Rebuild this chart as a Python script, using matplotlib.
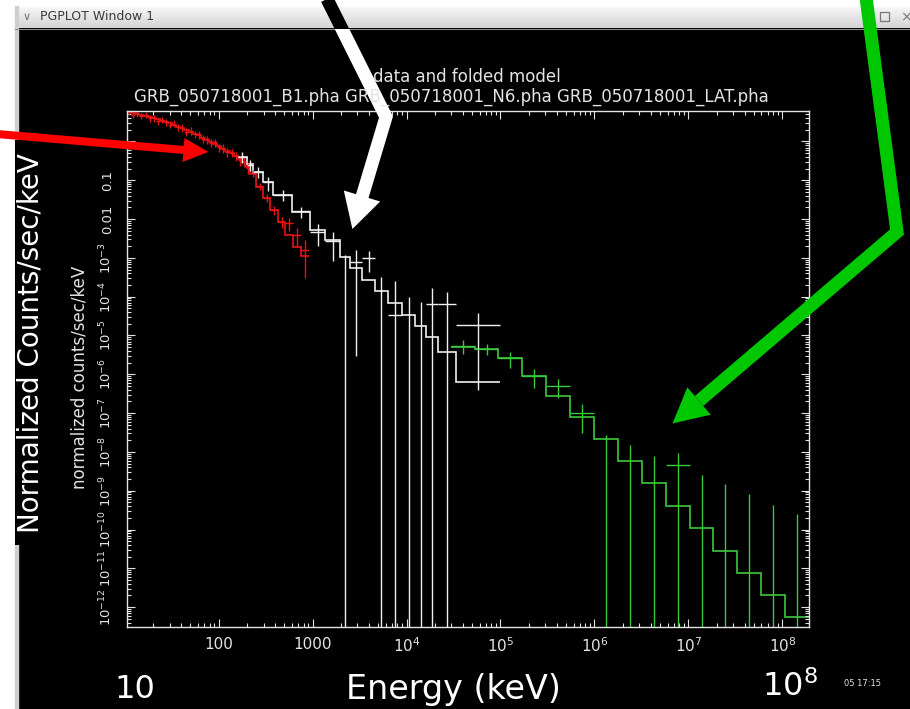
import numpy as np
import matplotlib
matplotlib.use("Agg")
import matplotlib.pyplot as plt
from matplotlib.patches import Polygon, Rectangle
from matplotlib.ticker import LogLocator, NullFormatter

W, H = 910, 709

# B1: bin edges [keV], folded model, data, 1-sigma errors  [counts/s/keV]
b1_edges = [10.6, 11.7, 12.9, 14.3, 15.8, 17.5, 19.3, 21.4, 23.6, 26.1, 28.9,
            31.9, 35.3, 39.0, 43.2, 47.7, 52.8, 58.4, 64.5, 71.4, 78.9, 87.2,
            96.5, 106.7, 118.0, 130.4, 144.2, 159.5, 176.3, 195.0, 215.6,
            249.5, 296.2, 351.7, 427.9, 507.8, 618.0, 751.9, 914.9]
b1_model = [5.59, 5.27, 4.97, 4.74, 4.49, 4.23, 3.96, 3.69, 3.44, 3.18, 2.91,
            2.66, 2.42, 2.20, 1.98, 1.78, 1.60, 1.43, 1.26, 1.106, 0.971, 0.852,
            0.748, 0.656, 0.572, 0.491, 0.418, 0.350, 0.288, 0.220,
            0.145, 0.0672, 0.0350, 0.01716, 0.00842, 0.00389, 0.00191, 0.00112]
b1_data = [5.87, 4.90, 5.37, 4.60, 4.94, 4.02, 4.04, 3.32, 3.68, 3.18, 2.74,
           2.90, 2.32, 2.29, 1.80, 1.92, 1.57, 1.52, 1.17, 1.14, 0.942, 0.946,
           0.711, 0.669, 0.526, 0.520, 0.418, 0.329, 0.302, 0.213,
           0.150, 0.070, 0.036, 0.0170, 0.0086, 0.0078, 0.0039, 0.0016]
b1_err = [1.1, 0.95, 1.0, 0.88, 0.92, 0.80, 0.80, 0.67, 0.72, 0.64, 0.57,
          0.59, 0.50, 0.48, 0.40, 0.41, 0.35, 0.33, 0.27, 0.27, 0.22, 0.22,
          0.17, 0.17, 0.135, 0.13, 0.11, 0.095, 0.085, 0.065,
          0.030, 0.015, 0.008, 0.0045, 0.0028, 0.0030, 0.0020, 0.0013]

# N6
n6_edges = [160, 200, 232, 296, 379, 603, 938, 1354, 1956, 2500, 3354, 4613,
            6343, 8943, 12300, 16106, 21617, 33604, 98810]
n6_model = [0.399, 0.263, 0.164, 0.0904, 0.0418, 0.0155, 5.24e-3, 2.89e-3,
            1.036e-3, 5.40e-4, 2.69e-4, 1.43e-4, 6.76e-5, 3.38e-5, 1.76e-5,
            9.31e-6, 3.82e-6, 6.22e-7]
n6_data = [0.41, 0.25, 0.168, 0.088, 0.043, 0.0157, 4.73e-3, 2.77e-3,
           0.0, 7.98e-4, 9.77e-4, 0.0, 3.38e-5, 0.0, 0.0,
           6.4e-5, 6.4e-5, 1.87e-5]
n6_err = [0.13, 0.08, 0.05, 0.035, 0.013, 0.005, 2.7e-3, 1.95e-3,
          1.2e-3, 7.95e-4, 5.4e-4, 3.3e-4, 2.25e-4, 9.6e-5, 7.2e-5,
          1.07e-4, 7.1e-5, 1.83e-5]

# LAT
lat_edges = [2.95e4, 5.30e4, 9.51e4, 1.709e5, 3.07e5, 5.51e5, 9.90e5, 1.778e6,
             3.19e6, 5.73e6, 1.030e7, 1.850e7, 3.32e7, 5.97e7, 1.072e8, 1.925e8]
lat_model = [5.06e-6, 4.57e-6, 2.58e-6, 9.2e-7, 2.81e-7, 8.07e-8, 2.19e-8,
             5.83e-9, 1.55e-9, 4.11e-10, 1.11e-10, 2.84e-11, 7.7e-12,
             2.05e-12, 5.66e-13]
lat_data = [5.5e-6, 4.6e-6, 2.58e-6, 9.2e-7, 4.99e-7, 1.0e-7, 0.0, 0.0, 0.0,
            4.6e-9, 0.0, 0.0, 0.0, 0.0, 0.0]
lat_err = [2.2e-6, 1.5e-6, 1.1e-6, 4.8e-7, 2.5e-7, 7.0e-8, 2.72e-8, 1.51e-8,
           7.98e-9, 4.6e-9, 2.54e-9, 1.46e-9, 8.07e-10, 4.28e-10, 2.51e-10]

x_ticks = [1e2, 1e3, 1e4, 1e5, 1e6, 1e7, 1e8]
x_ticklabels = ["100", "1000", r"$10^{4}$", r"$10^{5}$", r"$10^{6}$",
                r"$10^{7}$", r"$10^{8}$"]
y_ticks = [1e-12, 1e-11, 1e-10, 1e-9, 1e-8, 1e-7, 1e-6, 1e-5, 1e-4, 1e-3,
           1e-2, 1e-1, 1.0]
y_ticklabels = [r"$10^{-12}$", r"$10^{-11}$", r"$10^{-10}$", r"$10^{-9}$",
                r"$10^{-8}$", r"$10^{-7}$", r"$10^{-6}$", r"$10^{-5}$",
                r"$10^{-4}$", r"$10^{-3}$", "0.01", "0.1", "1"]
files = ["GRB_050718001_B1.pha", "GRB_050718001_N6.pha", "GRB_050718001_LAT.pha"]

RED, WHITE, GREEN = "#e81414", "#f0f0f0", "#3cc83c"
FG = "#e4e4e4"

plt.rcParams["mathtext.fontset"] = "dejavusans"


def plot_group(ax, edges, model, data, err, color):
    edges = np.asarray(edges, float)
    data = np.asarray(data, float)
    err = np.asarray(err, float)
    mid = np.sqrt(edges[:-1] * edges[1:])
    ax.stairs(model, edges, baseline=None, color=color, lw=1.2)
    lo = np.maximum(data - err, 1e-30)
    ax.vlines(mid, lo, data + err, color=color, lw=1.0)
    ok = data > 0
    ax.hlines(data[ok], edges[:-1][ok], edges[1:][ok], color=color, lw=1.0)


def arrow(ax, path, head, color, width):
    xs, ys = zip(*path)
    line, = ax.plot(xs, ys, color=color, lw=width, solid_capstyle="butt",
                    solid_joinstyle="miter")
    ax.add_patch(Polygon(head, closed=True, facecolor=color, lw=0))
    return line


fig = plt.figure(figsize=(W / 100, H / 100), dpi=100, facecolor="black")

# window chrome (pixel coordinates, y downwards)
bg = fig.add_axes([0, 0, 1, 1], zorder=0)
bg.imshow(np.linspace(0.97, 0.83, 24).reshape(-1, 1), cmap="gray", vmin=0, vmax=1,
          extent=(15, W, 28, 6), aspect="auto", interpolation="bilinear")
bg.add_patch(Rectangle((0, 0), W, 6, color="white"))
bg.add_patch(Rectangle((0, 0), 15, H, color="white"))
bg.add_patch(Rectangle((15, 6), 3, H, color="#cfcfcf"))
bg.plot([15, W], [28.5, 28.5], color="#8c8c8c", lw=0.8)
bg.text(27, 17, "\u2228", fontsize=8, color="#707070", ha="center", va="center")
bg.text(40, 17, "PGPLOT Window 1", fontsize=9, color="#3a3a3a", va="center")
bg.add_patch(Rectangle((880, 12), 9, 9, fill=False, ec="#777777", lw=0.9))
bg.text(906, 17, "\u00d7", fontsize=10, color="#777777", ha="center", va="center")
bg.set_xlim(0, W)
bg.set_ylim(H, 0)
bg.axis("off")

# spectrum panel
ax = fig.add_axes([127 / W, 1 - 627 / H, (809 - 127) / W, (627 - 111) / H], zorder=1)
ax.set_facecolor("black")
ax.set_xscale("log")
ax.set_yscale("log")
plot_group(ax, b1_edges, b1_model, b1_data, b1_err, RED)
plot_group(ax, n6_edges, n6_model, n6_data, n6_err, WHITE)
plot_group(ax, lat_edges, lat_model, lat_data, lat_err, GREEN)
ax.set_xlim(10.56, 1.925e8)
ax.set_ylim(3.07e-13, 6.11)

ax.set_xticks(x_ticks, x_ticklabels)
ax.set_yticks(y_ticks, y_ticklabels)
ax.xaxis.set_minor_locator(LogLocator(base=10, subs=np.arange(2, 10), numticks=200))
ax.yaxis.set_minor_locator(LogLocator(base=10, subs=np.arange(2, 10), numticks=200))
ax.xaxis.set_minor_formatter(NullFormatter())
ax.yaxis.set_minor_formatter(NullFormatter())
ax.tick_params(which="both", direction="in", top=True, right=True, color=FG,
               labelcolor=FG, width=0.8, pad=7)
ax.tick_params(axis="x", labelsize=11)
ax.tick_params(axis="y", labelsize=9.5, labelrotation=90, pad=9)
ax.tick_params(which="major", length=6)
ax.tick_params(which="minor", length=3)
for lab in ax.get_yticklabels():
    lab.set_va("center")
for s in ax.spines.values():
    s.set_color(FG)
    s.set_linewidth(1.0)

fig.text(467 / W, 1 - 77 / H, "data and folded model", color=FG, fontsize=12,
         ha="center", va="center")
fig.text(451 / W, 1 - 97 / H, " ".join(files), color=FG, fontsize=12,
         ha="center", va="center")
fig.text(80 / W, 1 - 377 / H, "normalized counts/sec/keV", color=FG, fontsize=12,
         rotation=90, ha="center", va="center")
fig.text(862 / W, 1 - 683 / H, "05 17:15", color=FG, fontsize=6,
         ha="center", va="center")

# overlay: callout arrows and big labels
fg = fig.add_axes([0, 0, 1, 1], zorder=3)
fg.patch.set_visible(False)
fg.set_xlim(0, W)
fg.set_ylim(H, 0)
fg.axis("off")

fg.add_patch(Rectangle((15, 140), 31, 405, color="black", lw=0))
fg.text(31, 343, "Normalized Counts/sec/keV", color="white", fontsize=20,
        rotation=90, ha="center", va="center")
fg.text(453, 689, "Energy (keV)", color="white", fontsize=24, ha="center", va="center")
fg.text(135, 689, "10", color="white", fontsize=23, ha="center", va="center")
fg.text(790, 687, r"$10^{8}$", color="white", fontsize=23, ha="center", va="center")

white_path = [(326, -3), (386, 117), (362, 197)]
white_head = [(343.8, 190.5), (380.2, 201.5), (352.4, 229)]
shaft = arrow(fg, white_path, white_head, "white", 9.4)
shaft.set_clip_path(Rectangle((0, 28.5), W, H, transform=fg.transData))
top, = fg.plot(*zip(*white_path), color="black", lw=9.4, solid_capstyle="butt",
               solid_joinstyle="miter")
top.set_clip_path(Rectangle((0, -10), W, 38.5, transform=fg.transData))

arrow(fg, [(-3, 134), (184, 150)], [(184.5, 138), (182.5, 162), (208.4, 152)],
      "#ff0000", 5.8)
arrow(fg, [(866, -3), (897, 232), (699, 401)],
      [(710.7, 414.7), (687.3, 387.3), (672.5, 423.5)], "#00c800", 9.4)

fig.savefig("out.png", dpi=100, facecolor="black")
